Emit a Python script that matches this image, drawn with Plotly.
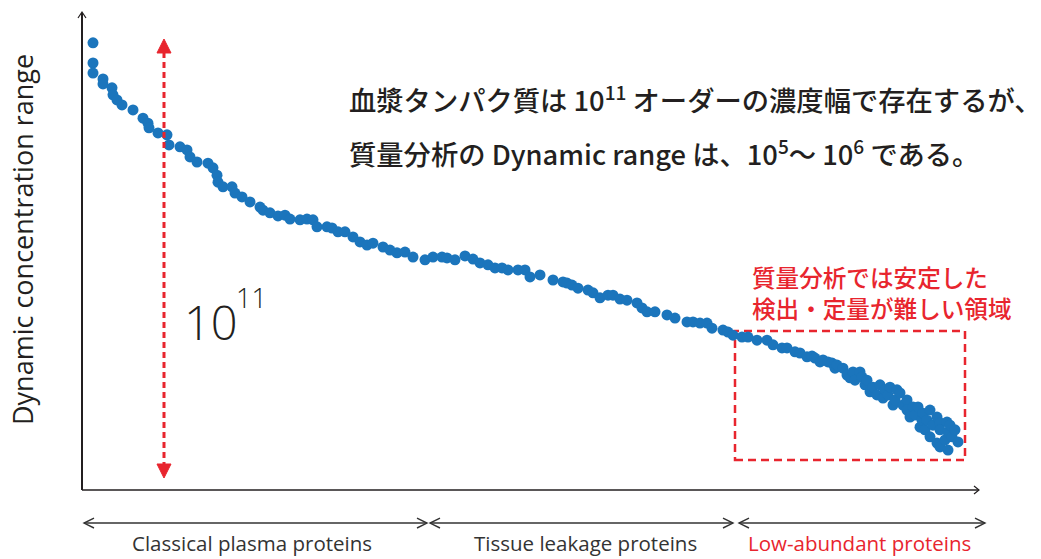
import plotly.graph_objects as go

# ---- data (protein rank vs. log10 concentration) ----
rank = [11, 11, 11, 21, 21, 30, 31, 35, 40, 51,
        61, 66, 67, 76, 85, 87, 98, 105, 108, 115,
        126, 131, 135, 136, 141, 150, 153, 160, 168, 178,
        181, 188, 196, 203, 208, 218, 225, 231, 235, 245,
        250, 256, 263, 271, 278, 285, 291, 301, 308, 315,
        323, 331, 343, 351, 360, 365, 373, 383, 391, 398,
        406, 413, 420, 426, 436, 443, 448, 458, 471, 481,
        485, 490, 496, 506, 511, 518, 526, 531, 538, 545,
        555, 560, 565, 573, 585, 593, 605, 611, 618, 625,
        630, 641, 646, 651, 660, 666, 675, 685, 691, 700,
        705, 713, 718, 725, 730, 733, 738, 741, 746, 750,
        753, 755, 761, 765, 768, 771, 773, 778, 780, 783,
        785, 788, 791, 795, 798, 801, 803, 806, 808, 811,
        813, 815, 818, 821, 825, 825, 828, 831, 833, 836,
        838, 840, 841, 843, 845, 848, 848, 851, 855, 855,
        858, 858, 858, 863, 865, 866, 866, 868, 870, 873,
        876]

log_conc = [11.03, 10.51, 10.25, 10.10, 9.97, 9.87, 9.69, 9.56, 9.43, 9.30,
            9.09, 8.96, 8.84, 8.71, 8.66, 8.40, 8.35, 8.27, 8.09, 7.96,
            7.93, 7.81, 7.62, 7.44, 7.32, 7.32, 7.16, 7.06, 6.93, 6.80,
            6.72, 6.65, 6.57, 6.59, 6.49, 6.47, 6.49, 6.47, 6.29, 6.29,
            6.26, 6.16, 6.16, 6.03, 5.90, 5.82, 5.87, 5.77, 5.69, 5.62,
            5.64, 5.51, 5.44, 5.51, 5.51, 5.49, 5.44, 5.54, 5.46, 5.36,
            5.31, 5.23, 5.23, 5.18, 5.18, 5.18, 5.00, 5.05, 4.92, 4.87,
            4.84, 4.79, 4.71, 4.66, 4.59, 4.46, 4.53, 4.53, 4.43, 4.40,
            4.33, 4.20, 4.10, 4.10, 4.02, 3.94, 3.84, 3.84, 3.81, 3.81,
            3.68, 3.63, 3.58, 3.50, 3.45, 3.45, 3.37, 3.37, 3.25, 3.17,
            3.17, 3.07, 3.04, 2.94, 2.96, 2.91, 2.81, 2.86, 2.81, 2.78,
            2.65, 2.73, 2.65, 2.47, 2.40, 2.55, 2.34, 2.55, 2.42, 2.22,
            2.34, 2.04, 2.16, 1.96, 2.22, 1.88, 2.09, 1.96, 2.16, 1.70,
            1.83, 2.09, 2.01, 1.70, 1.83, 1.57, 1.39, 1.65, 1.44, 1.65,
            1.13, 1.31, 1.49, 1.06, 1.31, 1.57, 0.88, 1.18, 1.39, 0.72,
            1.24, 1.06, 0.62, 0.80, 1.26, 1.00, 0.54, 1.18, 0.88, 1.06,
            0.75]

y_axis_title = "Dynamic concentration range"
main_text = ["血漿タンパク質は 10<sup>11</sup> オーダーの濃度幅で存在するが、",
             "質量分析の Dynamic range は、10<sup>5</sup>〜 10<sup>6</sup> である。"]
range_base = "10"
range_exp = "11"
red_note = ["質量分析では安定した", "検出・定量が難しい領域"]
segment_labels = ["Classical plasma proteins", "Tissue leakage proteins", "Low-abundant proteins"]

# ---- styles ----
W, H = 1041, 559
L, R, T, B = 82, 59, 12, 69
BLUE = "#1b75bc"
RED = "#e8252e"
INK = "#231f20"
GREY = "#333333"
JP = "Noto Sans CJK JP"
LAT = "Open Sans"


def px(x):
    return (x - L) / (W - L - R)


def py(y):
    return (H - B - y) / (H - T - B)


fig = go.Figure()
fig.add_trace(go.Scatter(
    x=rank, y=log_conc, mode="markers",
    marker=dict(color=BLUE, size=11, line=dict(width=0)),
    hoverinfo="skip", showlegend=False, cliponaxis=False,
))

shapes = []


def line(x0, y0, x1, y1, color=INK, width=1.5, dash="solid", layer="above"):
    shapes.append(dict(type="line", xref="paper", yref="paper",
                       x0=px(x0), y0=py(y0), x1=px(x1), y1=py(y1),
                       line=dict(color=color, width=width, dash=dash), layer=layer))


def path(points, color=INK, width=1.5, fill=None, close=False):
    d = "M " + " L ".join(f"{px(a):.5f},{py(b):.5f}" for a, b in points)
    if close:
        d += " Z"
    shapes.append(dict(type="path", xref="paper", yref="paper", path=d,
                       line=dict(color=color, width=width),
                       fillcolor=fill if fill else "rgba(0,0,0,0)", layer="above"))


# axes with open arrowheads
line(82, 490, 82, 13, color=INK, width=2)
path([(78, 18), (82, 12), (86, 18)], color=INK, width=1.2)
line(82, 490, 979, 490, color=INK, width=1.6)
path([(974, 486), (979, 490), (974, 494)], color=INK, width=1.2)

# bottom segment arrows
segs = [(84, 427), (430, 733), (739, 985)]
for a, b in segs:
    line(a, 523, b, 523, color=GREY, width=1.5)
    path([(a + 10, 518), (a, 523), (a + 10, 528)], color=GREY, width=1.4)
    path([(b - 10, 518), (b, 523), (b - 10, 528)], color=GREY, width=1.4)

# red dashed double arrow (10^11)
line(164, 52, 164, 465, color=RED, width=3, dash="6px,4px")
path([(157, 53), (171, 53), (164, 39)], color=RED, width=1, fill=RED, close=True)
path([(157, 464), (171, 464), (164, 478)], color=RED, width=1, fill=RED, close=True)

# red dashed box
shapes.append(dict(type="rect", xref="paper", yref="paper",
                   x0=px(735), x1=px(965), y0=py(460), y1=py(331),
                   line=dict(color=RED, width=2.5, dash="8px,5px"), layer="below"))

ann = []
ann.append(dict(text=y_axis_title, x=px(22), y=py(240), xref="paper", yref="paper",
                textangle=-90, showarrow=False, xanchor="center", yanchor="middle",
                font=dict(family=LAT, size=27, color=INK)))
for i, t in enumerate(main_text):
    ann.append(dict(text=t, x=px(347), y=py([99, 152][i]), xref="paper", yref="paper",
                    showarrow=False, xanchor="left", yanchor="middle",
                    font=dict(family=JP, size=27.3, color=INK, weight=500)))
ann.append(dict(text=range_base, x=px(182), y=py(322), xref="paper", yref="paper",
                showarrow=False, xanchor="left", yanchor="middle",
                font=dict(family=LAT, size=47, color=INK, weight=300)))
ann.append(dict(text=range_exp, x=px(234), y=py(297), xref="paper", yref="paper",
                showarrow=False, xanchor="left", yanchor="middle",
                font=dict(family=LAT, size=27, color=INK, weight=300)))
ann.append(dict(text="<br>".join(red_note), x=px(750), y=py(292), xref="paper", yref="paper",
                showarrow=False, xanchor="left", yanchor="middle", align="left",
                font=dict(family=JP, size=23.6, color=RED, weight=500)))
label_x = [252, 585, 859]
label_c = [GREY, GREY, RED]
for i, t in enumerate(segment_labels):
    ann.append(dict(text=t, x=px(label_x[i]), y=py(543), xref="paper", yref="paper",
                    showarrow=False, xanchor="center", yanchor="middle",
                    font=dict(family=LAT, size=20.5, color=label_c[i])))

fig.update_layout(
    width=W, height=H, autosize=False,
    margin=dict(l=L, r=R, t=T, b=B, pad=0),
    paper_bgcolor="white", plot_bgcolor="white",
    xaxis=dict(range=[0, 900], visible=False, fixedrange=True),
    yaxis=dict(range=[(471 - 490) / 38.82, (471 - 12) / 38.82], visible=False, fixedrange=True),
    shapes=shapes, annotations=ann,
)

fig.write_html("out.html", config={"displayModeBar": False},
               post_script="document.body.style.margin='0px';")
